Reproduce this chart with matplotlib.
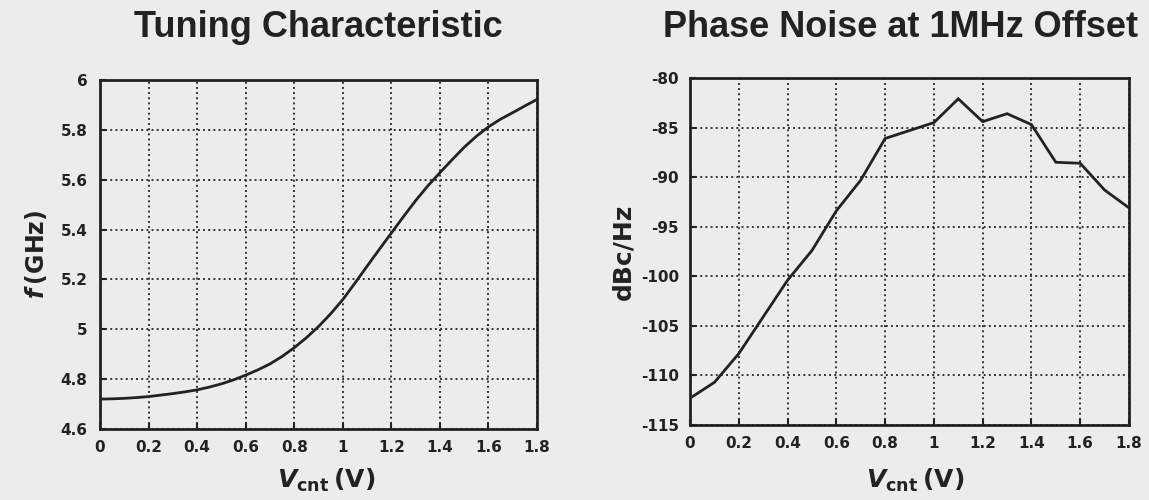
import matplotlib
matplotlib.use("Agg")
import matplotlib.pyplot as plt

plt.rcParams["mathtext.fontset"] = "custom"
plt.rcParams["mathtext.it"] = "DejaVu Sans:italic:bold"
plt.rcParams["mathtext.bf"] = "DejaVu Sans:bold"
plt.rcParams["mathtext.rm"] = "DejaVu Sans:bold"

# ---- data ----
vcnt_tuning = [0.00, 0.05, 0.10, 0.15, 0.20, 0.25, 0.30, 0.35, 0.40, 0.45,
               0.50, 0.55, 0.60, 0.65, 0.70, 0.75, 0.80, 0.85, 0.90, 0.95,
               1.00, 1.05, 1.10, 1.15, 1.20, 1.25, 1.30, 1.35, 1.40, 1.45,
               1.50, 1.55, 1.60, 1.65, 1.70, 1.75, 1.80]
freq_ghz = [4.720, 4.721, 4.723, 4.726, 4.730, 4.736, 4.742, 4.749, 4.757, 4.768,
            4.781, 4.797, 4.816, 4.837, 4.861, 4.891, 4.926, 4.966, 5.011, 5.062,
            5.119, 5.185, 5.253, 5.320, 5.386, 5.452, 5.516, 5.575, 5.628, 5.680,
            5.730, 5.774, 5.812, 5.843, 5.869, 5.896, 5.922]

vcnt_noise = [0.0, 0.1, 0.2, 0.3, 0.4, 0.5, 0.6, 0.7, 0.8, 0.9,
              1.0, 1.1, 1.2, 1.3, 1.4, 1.5, 1.6, 1.7, 1.8]
phase_noise = [-112.3, -110.7, -107.8, -104.1, -100.4, -97.4, -93.4, -90.3, -86.1, -85.3,
               -84.5, -82.1, -84.4, -83.6, -84.7, -88.5, -88.6, -91.3, -93.1]

x_ticks = [0, 0.2, 0.4, 0.6, 0.8, 1, 1.2, 1.4, 1.6, 1.8]
x_ticklabels = ["0", "0.2", "0.4", "0.6", "0.8", "1", "1.2", "1.4", "1.6", "1.8"]
f_ticks = [4.6, 4.8, 5.0, 5.2, 5.4, 5.6, 5.8, 6.0]
f_ticklabels = ["4.6", "4.8", "5", "5.2", "5.4", "5.6", "5.8", "6"]
pn_ticks = [-115, -110, -105, -100, -95, -90, -85, -80]
pn_ticklabels = ["-115", "-110", "-105", "-100", "-95", "-90", "-85", "-80"]

title_left = "Tuning Characteristic"
title_right = "Phase Noise at 1MHz Offset"

# ---- style ----
bg = "#ececec"
ink = "#222222"
W, H = 1149, 500
fig = plt.figure(figsize=(W / 100, H / 100), dpi=100, facecolor=bg)

def px_axes(x0, y0, x1, y1):
    return fig.add_axes([x0 / W, 1 - y1 / H, (x1 - x0) / W, (y1 - y0) / H])

axL = px_axes(100, 80, 537, 429)
axR = px_axes(690, 78, 1129, 425)

tick_font = dict(family="DejaVu Sans", weight="bold", size=11, color=ink)

def style(ax, yticks, yticklabels, ylim, ypad):
    ax.set_facecolor(bg)
    ax.set_xlim(0, 1.8)
    ax.set_ylim(*ylim)
    ax.set_xticks(x_ticks)
    ax.set_xticklabels(x_ticklabels, **tick_font)
    ax.set_yticks(yticks)
    ax.set_yticklabels(yticklabels, **tick_font)
    ax.grid(True, linestyle=":", linewidth=1.4, color="#333333")
    ax.tick_params(axis="both", direction="in", length=4, width=1.5, color=ink)
    ax.tick_params(axis="x", pad=8)
    ax.tick_params(axis="y", pad=ypad)
    for s in ax.spines.values():
        s.set_linewidth(2.0)
        s.set_color(ink)

style(axL, f_ticks, f_ticklabels, (4.6, 6.0), 9)
style(axR, pn_ticks, pn_ticklabels, (-115, -80), 8)

axL.plot(vcnt_tuning, freq_ghz, color=ink, linewidth=2.0, solid_capstyle="round",
         solid_joinstyle="round")
axR.plot(vcnt_noise, phase_noise, color=ink, linewidth=2.0, solid_joinstyle="miter")

# titles
title_font = dict(family="Liberation Sans", weight="bold", size=26, color=ink)
fig.text(318 / W, 1 - 37 / H, title_left, ha="center", va="baseline", **title_font)
fig.text(901 / W, 1 - 37 / H, title_right, ha="center", va="baseline", **title_font)

# axis labels
lab_font = dict(family="DejaVu Sans", weight="bold", color=ink)
for cx in (326, 915):
    fig.text(cx / W, 1 - 488 / H, r"$\mathit{V}_{\mathbf{cnt}}$" + "\u2009(V)",
             ha="center", va="baseline", size=18, **lab_font)

axL.set_ylabel(r"$\mathit{f}$" + "\u2009(GHz)", size=17, labelpad=8, **lab_font)
axR.set_ylabel("dBc/Hz", size=18, labelpad=4, **lab_font)

fig.savefig("out.png", dpi=100, facecolor=bg)
